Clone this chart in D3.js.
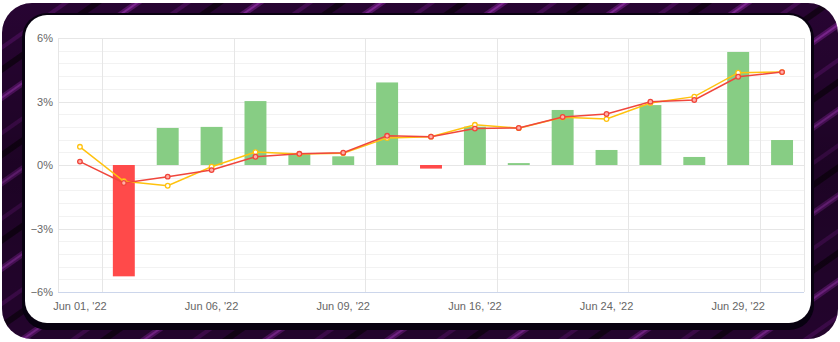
<!DOCTYPE html>
<html>
<head>
<meta charset="utf-8">
<script src="https://cdn.jsdelivr.net/npm/d3@7/dist/d3.min.js"></script>
<style>
  html, body { margin: 0; padding: 0; background: #ffffff; }
  svg { display: block; }
  text { font-family: "Liberation Sans", Arial, sans-serif; }
</style>
</head>
<body>
<svg id="chart" width="840" height="342"></svg>
<script>
// ---- data ----
const categories = ["Jun 01, '22","Jun 02, '22","Jun 03, '22","Jun 06, '22","Jun 07, '22","Jun 08, '22",
  "Jun 09, '22","Jun 10, '22","Jun 13, '22","Jun 16, '22","Jun 17, '22","Jun 21, '22",
  "Jun 24, '22","Jun 27, '22","Jun 28, '22","Jun 29, '22","Jun 30, '22"];
const barValues = [0, -5.26, 1.75, 1.8, 3.02, 0.55, 0.41, 3.9, -0.17, 1.81, 0.09, 2.6, 0.71, 2.83, 0.38, 5.34, 1.18];
const yellowValues = [0.86, -0.77, -0.98, -0.08, 0.61, 0.52, 0.56, 1.28, 1.34, 1.9, 1.74, 2.25, 2.17, 2.93, 3.23, 4.36, 4.39];
const redValues = [0.16, -0.85, -0.55, -0.24, 0.39, 0.53, 0.58, 1.38, 1.34, 1.72, 1.75, 2.27, 2.41, 2.99, 3.07, 4.17, 4.39];
const xTickLabels = ["Jun 01, '22","Jun 06, '22","Jun 09, '22","Jun 16, '22","Jun 24, '22","Jun 29, '22"];
const yTicks = [-6, -3, 0, 3, 6];

const svg = d3.select("#chart");
const defs = svg.append("defs");

// ---- decorative frame ----
const pat = defs.append("pattern").attr("id", "stripes").attr("patternUnits", "userSpaceOnUse")
  .attr("width", 70).attr("height", 70).attr("patternTransform", "rotate(-35)");
pat.append("rect").attr("width", 70).attr("height", 70).attr("fill", "#2c0538");
pat.append("rect").attr("x", 0).attr("y", 8).attr("width", 70).attr("height", 6).attr("fill", "#5e1470");
pat.append("rect").attr("x", 0).attr("y", 10).attr("width", 70).attr("height", 2).attr("fill", "#8a2aa0");
pat.append("rect").attr("x", 0).attr("y", 38).attr("width", 70).attr("height", 4).attr("fill", "#4a0d5a");
pat.append("rect").attr("x", 0).attr("y", 55).attr("width", 70).attr("height", 6).attr("fill", "#150219");

const shade = defs.append("linearGradient").attr("id", "shade").attr("x1", 0).attr("y1", 0).attr("x2", 0).attr("y2", 1);
shade.append("stop").attr("offset", "0%").attr("stop-color", "#000").attr("stop-opacity", 0.1);
shade.append("stop").attr("offset", "50%").attr("stop-color", "#000").attr("stop-opacity", 0.35);
shade.append("stop").attr("offset", "100%").attr("stop-color", "#000").attr("stop-opacity", 0.2);

svg.append("rect").attr("x", 2).attr("y", 3).attr("width", 836).attr("height", 336)
  .attr("rx", 30).attr("fill", "url(#stripes)");
svg.append("rect").attr("x", 2).attr("y", 3).attr("width", 836).attr("height", 336)
  .attr("rx", 30).attr("fill", "url(#shade)");
svg.append("rect").attr("x", 22).attr("y", 13).attr("width", 792).attr("height", 317)
  .attr("rx", 25).attr("fill", "#080110");
svg.append("rect").attr("x", 25).attr("y", 15).attr("width", 786).attr("height", 308)
  .attr("rx", 22).attr("fill", "#ffffff");

// ---- scales ----
const pLeft = 58, pRight = 804, pTop = 38, pBottom = 292;
const x = d3.scaleBand().domain(categories).range([pLeft, pRight]).paddingInner(0.5).paddingOuter(0.25);
const y = d3.scaleLinear().domain([-6, 6]).range([pBottom, pTop]);
const step = x.step();
const cx = c => x(c) + x.bandwidth() / 2;

const g = svg.append("g");

// minor horizontal grid
g.append("g").selectAll("line").data(d3.range(-6, 6.001, 0.6).filter(v => Math.abs(v / 3 - Math.round(v / 3)) > 0.01))
  .join("line").attr("x1", pLeft).attr("x2", pRight)
  .attr("y1", d => Math.round(y(d)) + 0.5).attr("y2", d => Math.round(y(d)) + 0.5)
  .attr("stroke", "#f2f2f2").attr("stroke-width", 1);

// vertical grid
const vLines = [pLeft, ...xTickLabels.map(l => cx(l) + step / 2), pRight];
g.append("g").selectAll("line").data(vLines).join("line")
  .attr("x1", d => Math.round(d) + 0.5).attr("x2", d => Math.round(d) + 0.5)
  .attr("y1", pTop).attr("y2", pBottom)
  .attr("stroke", "#e6e6e6").attr("stroke-width", 1);

// major horizontal grid
g.append("g").selectAll("line").data(yTicks.filter(v => v !== -6)).join("line")
  .attr("x1", pLeft).attr("x2", pRight)
  .attr("y1", d => Math.round(y(d)) + 0.5).attr("y2", d => Math.round(y(d)) + 0.5)
  .attr("stroke", "#e6e6e6").attr("stroke-width", 1);

// y axis (labels only)
const yAxis = d3.axisLeft(y).tickValues(yTicks).tickSize(0).tickPadding(5)
  .tickFormat(d => (d < 0 ? "\u2212" + Math.abs(d) : d) + "%");
const ya = g.append("g").attr("transform", `translate(${pLeft},0)`).call(yAxis);
ya.select(".domain").remove();
ya.selectAll("text").attr("fill", "#666666").style("font-size", "11px");

// x axis
const xAxis = d3.axisBottom(x).tickValues(xTickLabels).tickSize(0).tickPadding(10);
const xa = g.append("g").attr("transform", `translate(0,${pBottom})`).call(xAxis);
xa.select(".domain").attr("stroke", "#ccd6eb").attr("d", `M${pLeft},0.5H${pRight}`);
xa.selectAll("text").attr("fill", "#666666").style("font-size", "11px");

// bars
g.append("g").selectAll("rect").data(categories.map((c, i) => ({ c, v: barValues[i] })))
  .join("rect")
  .attr("x", d => x(d.c)).attr("width", x.bandwidth())
  .attr("y", d => y(Math.max(0, d.v))).attr("height", d => Math.abs(y(d.v) - y(0)))
  .attr("fill", d => d.v >= 0 ? "#87cd84" : "#ff4a4a");

// lines
const lineGen = d3.line().x((d, i) => cx(categories[i])).y(d => y(d));
function series(vals, color, fill) {
  const s = g.append("g");
  s.append("path").datum(vals).attr("d", lineGen).attr("fill", "none")
    .attr("stroke", color).attr("stroke-width", 1.5);
  s.selectAll("circle").data(vals).join("circle")
    .attr("cx", (d, i) => cx(categories[i])).attr("cy", d => y(d)).attr("r", 2.3)
    .attr("fill", fill).attr("stroke", color).attr("stroke-width", 1.3);
}
series(yellowValues, "#ffc20e", "#ffffff");
series(redValues, "#f0463c", "#ffb0a8");
</script>
</body>
</html>
